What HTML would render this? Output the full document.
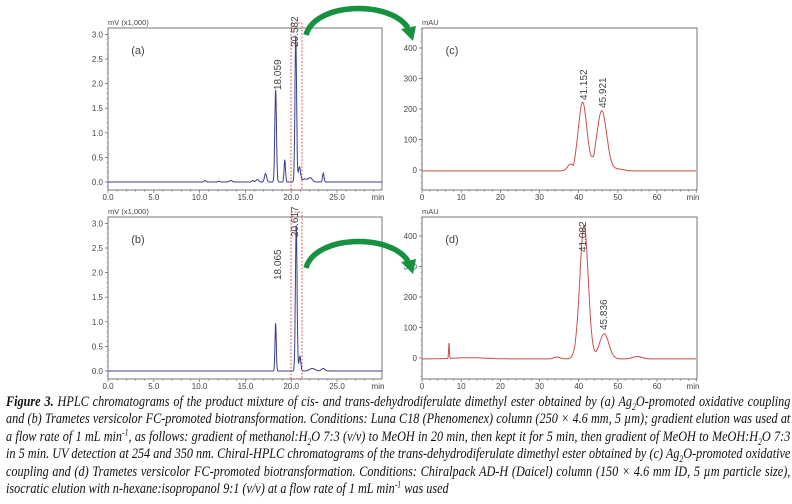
<!DOCTYPE html>
<html><head><meta charset="utf-8">
<style>
html,body{margin:0;padding:0;background:#fff;}
body{width:792px;height:504px;overflow:hidden;position:relative;}
svg{position:absolute;left:0;top:0;}
.cap{position:absolute;left:6px;top:394px;width:912px;transform:scaleX(0.86);transform-origin:0 0;font-family:"Liberation Serif",serif;font-style:italic;font-size:14.2px;color:#111;}
.cap div{height:17.4px;line-height:17.4px;white-space:nowrap;text-align:justify;text-align-last:justify;}
.cap div.last{text-align-last:left;}
.cap sub,.cap sup{font-size:9px;line-height:0;}
</style></head><body>
<svg id="s" width="792" height="504" xmlns="http://www.w3.org/2000/svg" font-family="Liberation Sans, sans-serif"></svg>
<div class="cap">
<div><b>Figure 3.</b> HPLC chromatograms of the product mixture of cis- and trans-dehydrodiferulate dimethyl ester obtained by (a) Ag<sub>2</sub>O-promoted oxidative coupling</div>
<div>and (b) Trametes versicolor FC-promoted biotransformation. Conditions: Luna C18 (Phenomenex) column (250 × 4.6 mm, 5 µm); gradient elution was used at</div>
<div>a flow rate of 1 mL min<sup>-1</sup>, as follows: gradient of methanol:H<sub>2</sub>O 7:3 (v/v) to MeOH in 20 min, then kept it for 5 min, then gradient of MeOH to MeOH:H<sub>2</sub>O 7:3</div>
<div>in 5 min. UV detection at 254 and 350 nm. Chiral-HPLC chromatograms of the trans-dehydrodiferulate dimethyl ester obtained by (c) Ag<sub>2</sub>O-promoted oxidative</div>
<div>coupling and (d) Trametes versicolor FC-promoted biotransformation. Conditions: Chiralpack AD-H (Daicel) column (150 × 4.6 mm ID, 5 µm particle size),</div>
<div class="last">isocratic elution with n-hexane:isopropanol 9:1 (v/v) at a flow rate of 1 mL min<sup>-1</sup> was used</div>
</div>
<script>
var s=document.getElementById('s'),h='';
function g(t,p){var v=p.base||0;p.pk.forEach(function(k){v+=k[1]*Math.exp(-Math.pow((t-k[0])/k[2],2)/2);});return v;}
function path(P){var d='';for(var t=P.t0;t<=P.t1;t+=P.dt){var x=P.x0+P.sx*t,y=P.y0-P.sy*g(t,P);d+=(d?'L':'M')+x.toFixed(1)+' '+y.toFixed(1);}return '<path d="'+d+'" fill="none" stroke="'+P.c+'" stroke-width="1"/>';}
function txt(x,y,t,a,sz,extra){return '<text x="'+x+'" y="'+y+'" font-size="'+(sz||8)+'" fill="#444" text-anchor="'+(a||'middle')+'" '+(extra||'')+'>'+t+'</text>';}
function axes(L,T,R,B,unit,lab){h+='<rect x="'+L+'" y="'+T+'" width="'+(R-L)+'" height="'+(B-T)+'" fill="none" stroke="#555" stroke-width="0.8"/>';h+=txt(L,T-3,unit,'start',7.5);h+=txt(L+30,T+26,lab,'middle',11,'fill="#222"');}
function hplc(T,peaks,lab,tl){var L=108,R=382,B=T+162,y0=T+154,sy=49.2,sx=9.16;axes(L,T,R,B,'mV (x1,000)',lab);
for(var v=0;v<=3;v+=0.5){var y=y0-sy*v;h+='<line x1="'+(L-3)+'" y1="'+y+'" x2="'+L+'" y2="'+y+'" stroke="#555" stroke-width="0.7"/>';h+=txt(L-5,y+3,v.toFixed(1),'end');}
for(var v=-0.1;v<=3.1;v+=0.1){var y=y0-sy*v;h+='<line x1="'+(L-1.5)+'" y1="'+y+'" x2="'+L+'" y2="'+y+'" stroke="#777" stroke-width="0.5"/>';}
for(var t=0;t<=29;t+=1){var x=L+sx*t;h+='<line x1="'+x+'" y1="'+B+'" x2="'+x+'" y2="'+(B+(t%5?1.5:3))+'" stroke="#555" stroke-width="0.6"/>';if(t%5==0&&t<=25)h+=txt(x,B+10,t.toFixed(1));}
h+=txt(R-4,B+10,'min');
h+=path({t0:0,t1:29.9,dt:0.02,x0:L,sx:sx,y0:y0,sy:sy,c:'#3d3d8a',pk:peaks});
h+='<rect x="291" y="'+(T-5)+'" width="11" height="'+(B-T+5)+'" fill="none" stroke="#d04040" stroke-width="0.8" stroke-dasharray="2,1.5"/>';
tl.forEach(function(a){h+=txt(0,0,a[0],'start',10,'fill="#222" transform="translate('+a[1]+','+a[2]+') rotate(-90)"');});}
function chiral(T,peaks,lab,tl){var L=422,R=697,B=T+162,sx=3.917,sy=0.305;var y0=(T==28)?170:358;axes(L,T,R,B,'mAU',lab);
for(var v=0;v<=400;v+=100){var y=y0-sy*v;h+='<line x1="'+(L-3)+'" y1="'+y+'" x2="'+L+'" y2="'+y+'" stroke="#555" stroke-width="0.7"/>';h+=txt(L-5,y+3,v,'end');}
for(var v=-60;v<=460;v+=20){var y=y0-sy*v;if(y>T&&y<B)h+='<line x1="'+(L-1.5)+'" y1="'+y+'" x2="'+L+'" y2="'+y+'" stroke="#777" stroke-width="0.5"/>';}
for(var t=0;t<=70;t+=2){var x=L+sx*t;h+='<line x1="'+x+'" y1="'+B+'" x2="'+x+'" y2="'+(B+(t%10?1.5:3))+'" stroke="#555" stroke-width="0.6"/>';if(t%10==0&&t<=60)h+=txt(x,B+10,t);}
h+=txt(R-4,B+10,'min');
h+=path({t0:0,t1:70,dt:0.05,x0:L,sx:sx,y0:y0,sy:sy,c:'#c9504a',base:-3,pk:peaks});
tl.forEach(function(a){h+=txt(0,0,a[0],'start',10,'fill="#222" transform="translate('+a[1]+','+a[2]+') rotate(-90)"');});}
hplc(28,[[18.3,1.87,0.09],[20.5,2.97,0.09],[20.9,0.3,0.12],[19.3,0.44,0.08],[17.2,0.17,0.12],[16.3,0.05,0.15],[15.8,0.03,0.1],[23.5,0.18,0.08],[22.1,0.08,0.2],[21.5,0.06,0.3],[10.6,0.03,0.1],[13.4,0.03,0.15],[12.1,0.015,0.1]],'(a)',[['18.059',281,90],['20.582',298,47]]);
hplc(217,[[18.3,0.97,0.07],[20.55,2.97,0.09],[20.95,0.3,0.1],[22.3,0.05,0.3],[23.5,0.05,0.2]],'(b)',[['18.065',281,280],['20.617',298,237]]);
chiral(28,[[41,225,1.1],[45.9,197,1.25],[37.7,18,0.7],[38.7,-12,0.2],[43.9,-8,0.2],[50,6,1.5]],'(c)',[['41.152',587,100],['45.921',606,108]]);
chiral(217,[[41.4,430,1.05],[46.5,82,1.2],[6.9,50,0.1],[40,20,1],[55,8,1.2],[34.5,6,0.8],[12,4,4]],'(d)',[['41.082',586,252],['45.836',607,330]]);
function arrow(dy){h+='<path d="M306 '+(35+dy)+' C315 '+(2+dy)+' 390 '+(0+dy)+' 408 '+(28+dy)+'" fill="none" stroke="#159140" stroke-width="5.5"/>';h+='<polygon points="401,'+(29+dy)+' 416,'+(26+dy)+' 413,'+(41+dy)+'" fill="#159140"/>';}
arrow(0);arrow(233);
s.innerHTML=h;
</script>
</body></html>
